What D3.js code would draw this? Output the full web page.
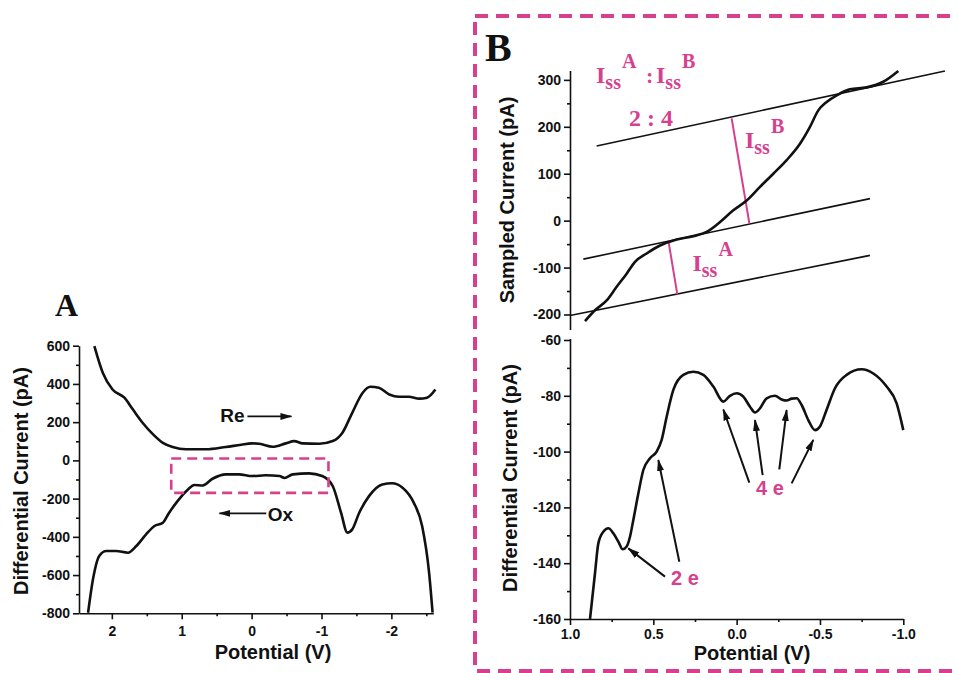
<!DOCTYPE html>
<html>
<head>
<meta charset="utf-8">
<script src="https://cdn.jsdelivr.net/npm/d3@7"></script>
<style>
    body { margin: 0; background: #fff; }
    text { font-family: "Liberation Sans", Arial, sans-serif; font-weight: bold; fill: #111; }
    .axis path, .axis line { stroke: #111; stroke-width: 1.6; }
    .axis text { font-size: 14px; font-weight: bold; font-family: "Liberation Sans", Arial, sans-serif; fill: #111; }
</style>
</head>
<body>
<div id="chart"></div>
<script>
// ---- panel A : reduction / oxidation sweeps
var reV = [2.25, 2.13, 1.99, 1.82, 1.70, 1.56, 1.41, 1.27, 1.13, 0.94, 0.65, 0.37, 0.15, 0, -0.11, -0.3, -0.49, -0.61, -0.73, -0.97, -1.16, -1.30, -1.44, -1.59, -1.70, -1.82, -1.97, -2.11, -2.25, -2.40, -2.51, -2.63];
var reI = [598, 459, 371, 328, 267, 197, 136, 92, 70, 58, 58, 70, 82, 89, 87, 71, 89, 101, 89, 87, 101, 145, 249, 354, 385, 380, 345, 333, 333, 323, 328, 371];
var oxV = [2.34, 2.27, 2.18, 2.08, 1.94, 1.77, 1.65, 1.51, 1.39, 1.27, 1.18, 1.06, 0.91, 0.82, 0.70, 0.56, 0.37, 0.18, -0.01, -0.2, -0.4, -0.47, -0.59, -0.82, -1.01, -1.16, -1.28, -1.37, -1.44, -1.54, -1.68, -1.87, -2.01, -2.16, -2.32, -2.44, -2.54, -2.59];
var oxI = [-797, -622, -500, -474, -474, -483, -448, -387, -343, -326, -274, -213, -152, -129, -131, -96, -73, -73, -82, -78, -82, -92, -73, -68, -82, -134, -274, -378, -361, -274, -187, -126, -120, -143, -221, -343, -588, -797];
var aTicksX = [2, 1, 0, -1, -2];
var aMinorX = [1.5, 0.5, -0.5, -1.5, -2.5];
var aTicksY = [600, 400, 200, 0, -200, -400, -600, -800];
var aMinorY = [500, 300, 100, -100, -300, -500, -700];
var aBox = [1.15, -1.1, 10, -170]; // zoomed window: V from, V to, I top, I bottom

// ---- panel B top : sampled current
var sV = [0.91, 0.85, 0.78, 0.72, 0.66, 0.61, 0.54, 0.46, 0.36, 0.26, 0.18, 0.11, 0.02, -0.06, -0.14, -0.22, -0.30, -0.38, -0.44, -0.49, -0.54, -0.60, -0.68, -0.78, -0.88, -0.97];
var sI = [-214, -191, -170, -141, -113, -88, -70, -53, -40, -33, -24, -6, 22, 43, 72, 100, 129, 164, 200, 235, 253, 267, 280, 284, 296, 319];
// straight baselines  [V1, I1, V2, I2]
var fitLines = [[0.84, 159, -1.25, 319], [0.92, -82, -0.80, 47], [1.0, -202, -0.80, -74]];
var issB = [0.03, 218, -0.076, -5];
var issA = [0.41, -42, 0.356, -157];
var bTopTicksY = [-200, -100, 0, 100, 200, 300];
var bTopMinorY = [-150, -50, 50, 150, 250];

// ---- panel B bottom : differential current
var dV = [0.88, 0.85, 0.83, 0.80, 0.77, 0.74, 0.71, 0.684, 0.66, 0.64, 0.62, 0.59, 0.56, 0.52, 0.48, 0.45, 0.42, 0.38, 0.32, 0.26, 0.20, 0.14, 0.08, 0.04, 0.0, -0.04, -0.08, -0.11, -0.14, -0.18, -0.23, -0.27, -0.30, -0.33, -0.36, -0.39, -0.43, -0.47, -0.5, -0.54, -0.59, -0.66, -0.75, -0.82, -0.90, -0.96, -1.0];
var dI = [-160, -143.6, -132.9, -128.7, -127.5, -129.3, -132.3, -135, -134, -130.5, -124.5, -115, -106.6, -102.4, -100, -95.8, -87.5, -77.9, -72.5, -71.4, -72.5, -76.7, -82.1, -80, -79.1, -80.3, -83.9, -86, -84.5, -80.9, -80, -81.3, -81.7, -81, -80.9, -83.3, -88.7, -92.3, -91, -85, -77.3, -72.5, -70.5, -72, -76.7, -82.7, -92.3];
var bTicksX = [1.0, 0.5, 0.0, -0.5, -1.0];
var bMinorX = [0.75, 0.25, -0.25, -0.75];
var bTicksY = [-60, -80, -100, -120, -140, -160];
var bMinorY = [-70, -90, -110, -130, -150];
// arrows [tailV, tailI, headV, headI]
var twoE = [[0.43, -144.8, 0.65, -134.7], [0.344, -139.5, 0.47, -103]];
var fourE = [[-0.076, -111.1, 0.08, -84.9], [-0.156, -108.4, -0.11, -88.7], [-0.256, -106.4, -0.3, -85.1], [-0.33, -111.4, -0.46, -95.8]];

var pink = "#d6408f";

(function () {
    var width = 958,
        height = 673;

    var svg = d3.select("#chart")
        .append("svg")
        .attr("width", width)
        .attr("height", height);

    var defs = svg.append("defs");
    defs.append("marker")
        .attr("id", "head")
        .attr("markerUnits", "userSpaceOnUse")
        .attr("markerWidth", 12).attr("markerHeight", 8)
        .attr("refX", 11).attr("refY", 4)
        .attr("orient", "auto")
        .append("path")
        .attr("d", "M0,0.5 L12,4 L0,7.5 Z")
        .attr("fill", "#111");

    // plain hyphen minus like the original, not the unicode minus
    var fmtInt = function (d) { return String(d); };
    var fmt1 = function (d) { return d.toFixed(1); };

    function zip(xs, ys) {
        return xs.map(function (v, i) { return [v, ys[i]]; });
    }

    function xAxis(g, x, y0, ticks, minor, fmt, pad) {
        g.append("g").attr("class", "axis")
            .attr("transform", "translate(0," + y0 + ")")
            .call(d3.axisBottom(x).tickValues(minor).tickSize(3).tickFormat(""))
            .select(".domain").remove();
        g.append("g").attr("class", "axis")
            .attr("transform", "translate(0," + y0 + ")")
            .call(d3.axisBottom(x).tickValues(ticks).tickSize(6).tickSizeOuter(0).tickPadding(pad).tickFormat(fmt));
    }

    function yAxis(g, y, x0, ticks, minor, fmt) {
        g.append("g").attr("class", "axis")
            .attr("transform", "translate(" + x0 + ",0)")
            .call(d3.axisLeft(y).tickValues(minor).tickSize(3).tickFormat(""))
            .select(".domain").remove();
        g.append("g").attr("class", "axis")
            .attr("transform", "translate(" + x0 + ",0)")
            .call(d3.axisLeft(y).tickValues(ticks).tickSize(6).tickSizeOuter(0).tickPadding(3).tickFormat(fmt));
    }

    function yTitle(txt, cx, cy) {
        svg.append("text")
            .attr("transform", "translate(" + cx + "," + cy + ") rotate(-90)")
            .attr("text-anchor", "middle")
            .attr("dy", "0.35em")
            .style("font-size", "20px")
            .text(txt);
    }

    function xTitle(txt, cx, by) {
        svg.append("text")
            .attr("x", cx).attr("y", by)
            .attr("text-anchor", "middle")
            .style("font-size", "20px")
            .text(txt);
    }

    // ================= panel A
    var xA = d3.scaleLinear().domain([2.47, -2.6]).range([79, 433.3]);
    var yA = d3.scaleLinear().domain([-800, 600]).range([613.3, 345.7]);
    var lineA = d3.line()
        .x(function (d) { return xA(d[0]); })
        .y(function (d) { return yA(d[1]); })
        .curve(d3.curveMonotoneX);

    var gA = svg.append("g");
    xAxis(gA, xA, 613.3, aTicksX, aMinorX, fmtInt, 7);
    yAxis(gA, yA, 79, aTicksY, aMinorY, fmtInt);

    gA.append("path").datum(zip(reV, reI))
        .attr("d", lineA).attr("fill", "none").attr("stroke", "#111").attr("stroke-width", 2.6);
    gA.append("path").datum(zip(oxV, oxI))
        .attr("d", lineA).attr("fill", "none").attr("stroke", "#111").attr("stroke-width", 2.6);

    gA.append("rect")
        .attr("x", xA(aBox[0])).attr("y", yA(aBox[2]))
        .attr("width", xA(aBox[1]) - xA(aBox[0]))
        .attr("height", yA(aBox[3]) - yA(aBox[2]))
        .attr("fill", "none").attr("stroke", pink)
        .attr("stroke-width", 2.6).attr("stroke-dasharray", "10,6");

    // Re / Ox labels
    gA.append("text").attr("x", xA(0.1)).attr("y", yA(199))
        .attr("text-anchor", "end").style("font-size", "19px").text("Re");
    gA.append("line")
        .attr("x1", xA(0.06)).attr("y1", yA(230)).attr("x2", xA(-0.57)).attr("y2", yA(230))
        .attr("stroke", "#111").attr("stroke-width", 1.6).attr("marker-end", "url(#head)");
    gA.append("text").attr("x", xA(-0.23)).attr("y", yA(-318))
        .style("font-size", "19px").text("Ox");
    gA.append("line")
        .attr("x1", xA(-0.21)).attr("y1", yA(-277)).attr("x2", xA(0.46)).attr("y2", yA(-277))
        .attr("stroke", "#111").attr("stroke-width", 1.6).attr("marker-end", "url(#head)");

    svg.append("text").attr("x", 55).attr("y", 316)
        .style("font-family", "'Liberation Serif', 'DejaVu Serif', serif")
        .style("font-size", "32px").text("A");

    yTitle("Differential Current (pA)", 21, 481);
    xTitle("Potential (V)", 273, 659);

    // ================= panel B frame
    svg.append("rect")
        .attr("x", 475).attr("y", 16).attr("width", 520).attr("height", 655)
        .attr("fill", "none").attr("stroke", pink)
        .attr("stroke-width", 4).attr("stroke-dasharray", "13,8");

    svg.append("text").attr("x", 485).attr("y", 61)
        .style("font-family", "'Liberation Serif', 'DejaVu Serif', serif")
        .style("font-size", "40px").text("B");

    var xB = d3.scaleLinear().domain([1.0, -1.0]).range([570, 903.3]);
    var line = function (x, y) {
        return d3.line()
            .x(function (d) { return x(d[0]); })
            .y(function (d) { return y(d[1]); })
            .curve(d3.curveMonotoneX);
    };

    // ---- top: sampled current
    var yBt = d3.scaleLinear().domain([-232, 320]).range([329.5, 70.5]);
    var gBt = svg.append("g");
    yAxis(gBt, yBt, 570, bTopTicksY, bTopMinorY, fmtInt);

    gBt.selectAll(".fit")
        .data(fitLines)
        .enter().append("line")
        .attr("class", "fit")
        .attr("x1", function (d) { return xB(d[0]); })
        .attr("y1", function (d) { return yBt(d[1]); })
        .attr("x2", function (d) { return xB(d[2]); })
        .attr("y2", function (d) { return yBt(d[3]); })
        .attr("stroke", "#111").attr("stroke-width", 1.6);

    gBt.selectAll(".iss")
        .data([issB, issA])
        .enter().append("line")
        .attr("class", "iss")
        .attr("x1", function (d) { return xB(d[0]); })
        .attr("y1", function (d) { return yBt(d[1]); })
        .attr("x2", function (d) { return xB(d[2]); })
        .attr("y2", function (d) { return yBt(d[3]); })
        .attr("stroke", pink).attr("stroke-width", 2);

    gBt.append("path").datum(zip(sV, sI))
        .attr("d", line(xB, yBt)).attr("fill", "none").attr("stroke", "#111").attr("stroke-width", 2.6);

    // I_ss labels (serif, pink)
    function iss(g, x, y, sup) {
        var t = g.append("text").attr("x", x).attr("y", y)
            .style("font-family", "'Liberation Serif', 'DejaVu Serif', serif")
            .style("fill", pink).style("font-size", "24px");
        t.append("tspan").text("I");
        t.append("tspan").attr("dy", 6).style("font-size", "20px").text("ss");
        t.append("tspan").attr("dy", -21).attr("dx", 1).style("font-size", "20px").text(sup);
        return t;
    }
    iss(gBt, 596, 83, "A");
    gBt.append("text").attr("x", 646).attr("y", 83)
        .style("font-family", "'Liberation Serif', serif").style("fill", pink).style("font-size", "22px").text(":");
    iss(gBt, 656, 83, "B");
    gBt.append("text").attr("x", 651).attr("y", 126).attr("text-anchor", "middle")
        .style("font-family", "'Liberation Serif', serif").style("fill", pink).style("font-size", "24px").text("2 : 4");
    iss(gBt, xB(-0.05), yBt(155), "B");
    iss(gBt, xB(0.265), yBt(-108), "A");

    yTitle("Sampled Current (pA)", 507, 200);

    // ---- bottom: differential current
    var yBb = d3.scaleLinear().domain([-160, -59.5]).range([619, 338.6]);
    var gBb = svg.append("g");
    xAxis(gBb, xB, 619, bTicksX, bMinorX, fmt1, 4);
    yAxis(gBb, yBb, 570, bTicksY, bMinorY, fmtInt);

    gBb.append("path").datum(zip(dV, dI))
        .attr("d", line(xB, yBb)).attr("fill", "none").attr("stroke", "#111").attr("stroke-width", 2.6);

    gBb.selectAll(".arr")
        .data(twoE.concat(fourE))
        .enter().append("line")
        .attr("class", "arr")
        .attr("x1", function (d) { return xB(d[0]); })
        .attr("y1", function (d) { return yBb(d[1]); })
        .attr("x2", function (d) { return xB(d[2]); })
        .attr("y2", function (d) { return yBb(d[3]); })
        .attr("stroke", "#111").attr("stroke-width", 2).attr("marker-end", "url(#head)");

    gBb.append("text").attr("x", xB(0.31)).attr("y", yBb(-147.8)).attr("text-anchor", "middle")
        .style("fill", pink).style("font-size", "20px").text("2 e");
    gBb.append("text").attr("x", xB(-0.2)).attr("y", yBb(-115.6)).attr("text-anchor", "middle")
        .style("fill", pink).style("font-size", "20px").text("4 e");

    yTitle("Differential Current (pA)", 510, 478);
    xTitle("Potential (V)", 752, 660);
})();
</script>
</body>
</html>
